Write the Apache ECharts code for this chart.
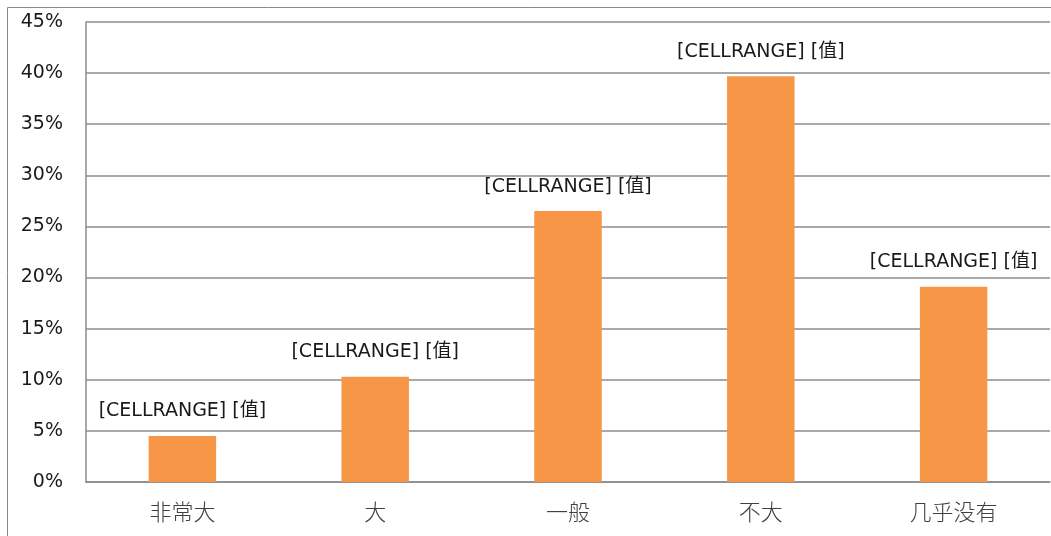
<!DOCTYPE html>
<html><head><meta charset="utf-8">
<script src="https://cdn.jsdelivr.net/npm/echarts@6/dist/echarts.min.js"></script>
<style>html,body{margin:0;padding:0;background:#fff}#c{width:1051px;height:536px}</style>
</head><body><div id="c"></div>
<script>
var categories = ['非常大', '大', '一般', '不大', '几乎没有'];
var values = [4.5, 10.3, 26.5, 39.7, 19.1];
var labelText = '[CELLRANGE] [值]';
var yTicks = [0, 5, 10, 15, 20, 25, 30, 35, 40, 45];

var chart = echarts.init(document.getElementById('c'));
chart.setOption({
  animation: false,
  graphic: [{
    type: 'rect', shape: {x: 7.5, y: 7.5, width: 1100, height: 600},
    style: {fill: 'none', stroke: '#898989', lineWidth: 1}
  }],
  grid: {left: 86, right: 1, top: 22, bottom: 54},
  xAxis: {
    type: 'category', data: categories,
    axisLine: {lineStyle: {color: '#8c8c8c', width: 1.5}},
    axisTick: {show: false},
    axisLabel: {color: '#404040', fontSize: 22, fontWeight: 300, fontFamily: 'Noto Sans CJK SC', margin: 19}
  },
  yAxis: {
    type: 'value', min: yTicks[0], max: yTicks[yTicks.length - 1], interval: yTicks[1] - yTicks[0],
    axisLine: {show: true, lineStyle: {color: '#8c8c8c', width: 1.5}},
    axisTick: {show: false},
    splitLine: {lineStyle: {color: '#8c8c8c', width: 1.5}},
    axisLabel: {color: '#1a1a1a', fontSize: 19, fontFamily: 'DejaVu Sans, Noto Sans CJK SC', margin: 23,
      formatter: function(v){ return v + '%'; }}
  },
  series: [{
    type: 'bar', data: values, barWidth: '35%',
    itemStyle: {color: '#F79646'},
    label: {show: true, position: 'top', distance: 15, color: '#1a1a1a',
      fontSize: 19, fontFamily: 'DejaVu Sans, Noto Sans CJK SC', formatter: function(){ return labelText; }}
  }]
});
</script></body></html>
